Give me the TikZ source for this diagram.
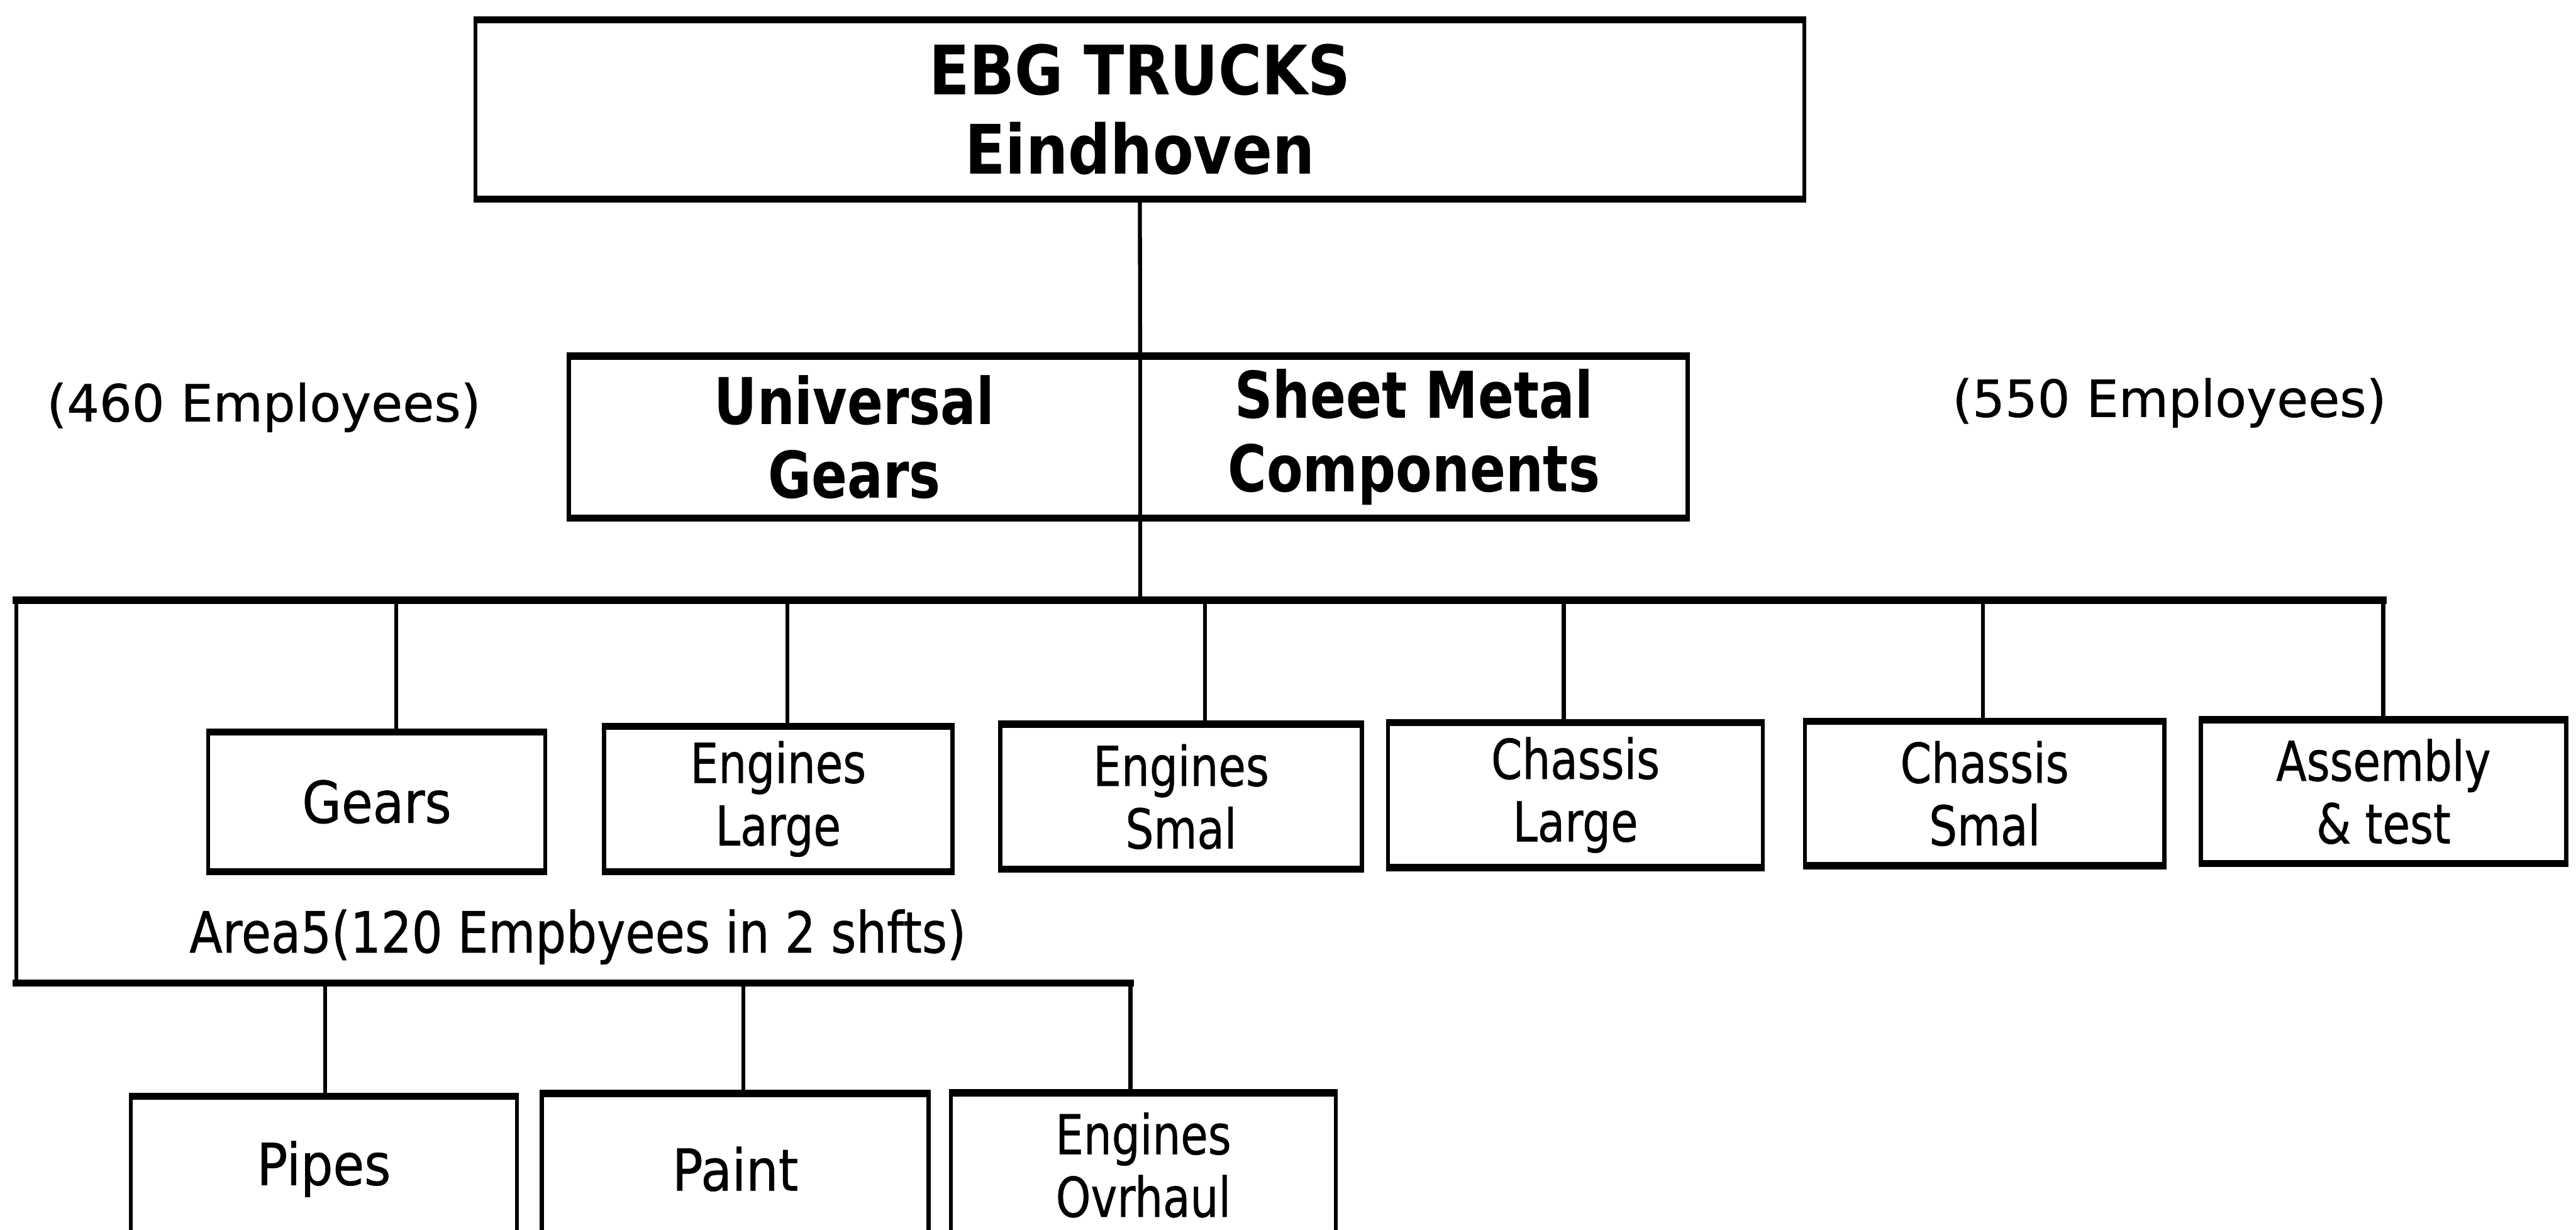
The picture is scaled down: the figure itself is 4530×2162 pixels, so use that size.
\documentclass[tikz,border=0pt]{standalone}
\usepackage{fontspec}
\setmainfont{DejaVu Sans}[FakeBold=0.5]
\newfontfamily\bnarrowA{DejaVu Sans}[FakeStretch=0.87]
\newfontfamily\bnarrowB{DejaVu Sans}[FakeStretch=0.82]
\newfontfamily\rnarrowA{DejaVu Sans}[FakeStretch=0.88, FakeBold=0.6]
\newfontfamily\rnarrowB{DejaVu Sans}[FakeStretch=0.81, FakeBold=0.6]
\newfontfamily\rnarrowC{DejaVu Sans}[FakeStretch=0.85, FakeBold=0.6]
\newfontfamily\rplain{DejaVu Sans}[FakeBold=0.6]
\begin{document}
\begin{tikzpicture}[x=0.3pt,y=-0.3pt,
  box/.style={draw, line width=2.2pt, inner sep=0pt, outer sep=0pt, align=center},
  hline/.style={line width=3.8pt, line cap=rect},
  vline/.style={line width=2.1pt},
  topfont/.style={font=\bnarrowA\bfseries\fontsize{36}{42}\selectfont},
  midfont/.style={font=\bnarrowB\bfseries\fontsize{34}{38.7}\selectfont},
  onefont/.style={font=\rnarrowA\fontsize{30.5}{33}\selectfont},
  twofont/.style={font=\rnarrowB\fontsize{29}{33}\selectfont},
  lblfont/.style={font=\rplain\fontsize{27}{33}\selectfont},
  areafont/.style={font=\rnarrowC\fontsize{30}{33}\selectfont}]
\fill[white] (0,0) rectangle (4530,2162);
\useasboundingbox (0,0) rectangle (4530,2162);
\clip (0,0) rectangle (4530,2162);

% boxes
\node[box, topfont, minimum width=701.1pt, minimum height=94.5pt] (top) at (2004.5,192.5) {EBG TRUCKS\\Eindhoven};
\node[box, midfont, minimum width=301.5pt, minimum height=85.5pt] (ug) at (1502.5,768.5) {Universal\\Gears};
\node[box, midfont, minimum width=288.9pt, minimum height=85.5pt] (smc) at (2486.5,768.5) {Sheet Metal\\Components};

\node[box, onefont, minimum width=177.9pt, minimum height=73.5pt] (gears) at (662.5,1409.5) {Gears};
\node[box, twofont, minimum width=183.9pt, minimum height=76.5pt] (engL) at (1368.5,1404.5) {Engines\\Large};
\node[box, twofont, minimum width=190.8pt, minimum height=76.5pt] (engS) at (2077,1400.5) {Engines\\Smal};
\node[box, twofont, minimum width=197.7pt, minimum height=76.5pt] (chL) at (2770.5,1397.5) {Chassis\\Large};
\node[box, twofont, minimum width=189.6pt, minimum height=76.2pt] (chS) at (3490,1395) {Chassis\\Smal};
\node[box, twofont, minimum width=192.9pt, minimum height=75.9pt] (asm) at (4191.5,1391.5) {Assembly\\\&\ test};

\node[box, onefont, minimum width=203.7pt, minimum height=76.8pt] (pipes) at (569.5,2055) {Pipes};
\node[box, onefont, minimum width=204pt, minimum height=79.8pt] (paint) at (1293,2055) {Paint};
\node[box, twofont, minimum width=203.1pt, minimum height=76.2pt] (ovr) at (2010.5,2048) {Engines\\Ovrhaul};

% thick top and bottom edges
\foreach \n in {top,ug,smc,gears,engL,engS,chL,chS,asm,pipes,paint,ovr}{
  \draw[hline, line cap=butt] ([xshift=-1.1pt]\n.north west) -- ([xshift=1.1pt]\n.north east);
  \draw[hline, line cap=butt] ([xshift=-1.1pt]\n.south west) -- ([xshift=1.1pt]\n.south east);
}

% labels
\node[lblfont] (l460) at (464,716) {(460 Employees)};
\node[lblfont] (l550) at (3815,708) {(550 Employees)};
\node[areafont] (area) at (1016,1647) {Area5(120 Empbyees in 2 shfts)};

% connector coordinates
\coordinate (hub) at (2005,1055);
\coordinate (a0) at (29,1055);
\coordinate (d1) at (697,1055);
\coordinate (d2) at (1385,1055);
\coordinate (d3) at (2119,1055);
\coordinate (d4) at (2750,1055);
\coordinate (d5) at (3487,1055);
\coordinate (d6) at (4191,1055);
\coordinate (aL) at (29,1728);
\coordinate (e1) at (572,1728);
\coordinate (e2) at (1307,1728);
\coordinate (e3) at (1988,1728);

% connectors
\draw[vline] (top.south) -- (ug.north east);
\draw[vline] (ug.south east) -- (hub);
\draw[hline] (a0) -- (d6);
\draw[vline] (a0) -- (aL);
\draw[hline] (aL) -- (e3);
\draw[vline] (d1) -- (d1 |- gears.north);
\draw[vline] (d2) -- (d2 |- engL.north);
\draw[vline] (d3) -- (d3 |- engS.north);
\draw[vline] (d4) -- (d4 |- chL.north);
\draw[vline] (d5) -- (d5 |- chS.north);
\draw[vline] (d6) -- (d6 |- asm.north);
\draw[vline] (e1) -- (e1 |- pipes.north);
\draw[vline] (e2) -- (e2 |- paint.north);
\draw[vline] (e3) -- (e3 |- ovr.north);
\end{tikzpicture}
\end{document}
